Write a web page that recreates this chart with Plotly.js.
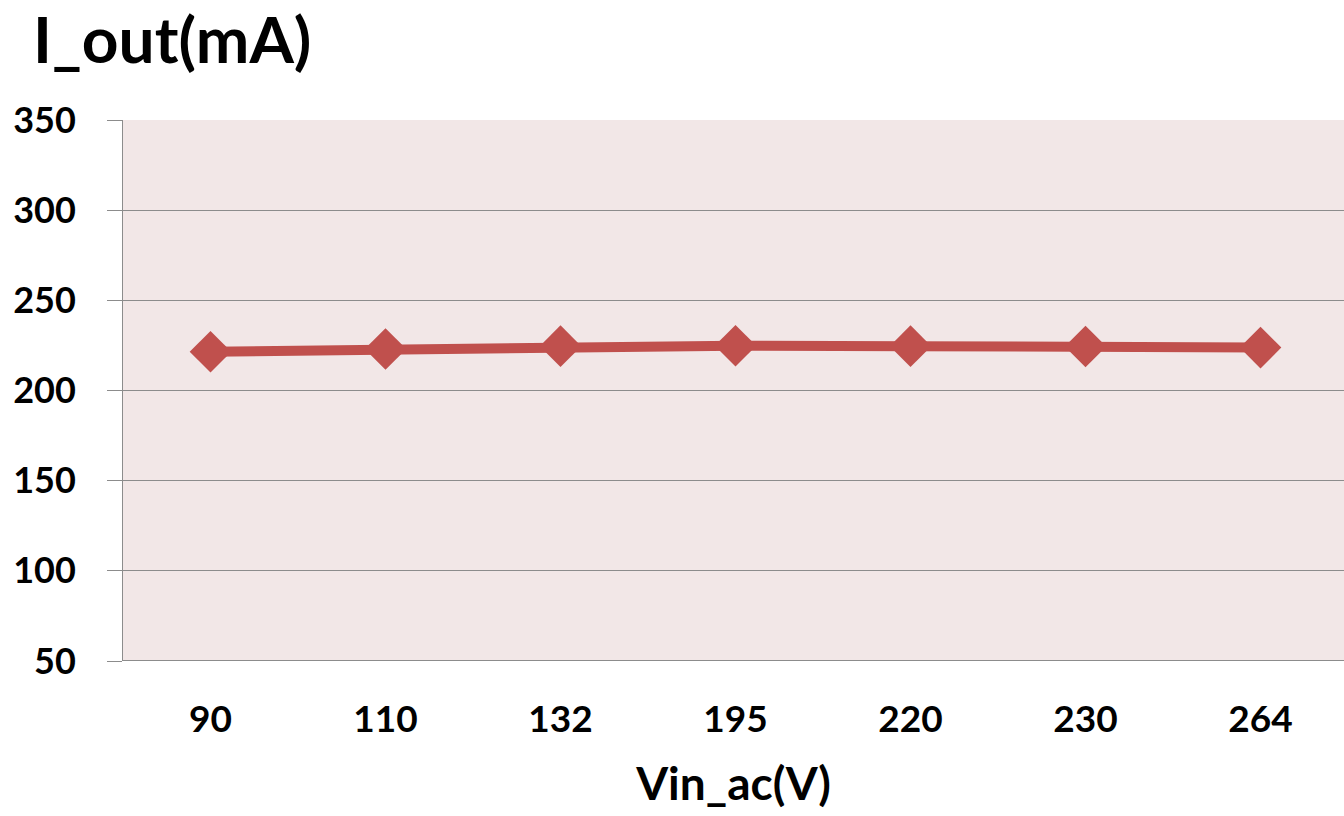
<!DOCTYPE html>
<html>
<head>
<meta charset="utf-8">
<script src="https://cdn.plot.ly/plotly-3.0.1.min.js"></script>
<style>html,body{margin:0;padding:0;background:#fff;}#chart{width:1344px;height:816px;}</style>
</head>
<body>
<div id="chart"></div>
<script>
const categories = ["90", "110", "132", "195", "220", "230", "264"];
const iOut = [221.5, 223, 224.6, 224.8, 224.6, 224.4, 223.8];
const yTicks = [50, 100, 150, 200, 250, 300, 350];

const font = "Lato, 'Open Sans', sans-serif";
const trace = {
  x: categories,
  y: iOut,
  type: "scatter",
  mode: "lines+markers",
  line: {color: "#c0504d", width: 10},
  marker: {symbol: "diamond", size: 32, color: "#c0504d"},
  hoverinfo: "x+y"
};

const layout = {
  width: 1344, height: 816,
  margin: {l: 123, r: 0, t: 120, b: 155},
  paper_bgcolor: "#ffffff",
  plot_bgcolor: "#f2e7e7",
  showlegend: false,
  title: {
    text: "<b>I_out(mA)</b>",
    font: {family: font, size: 64, color: "#000"},
    x: 33 / 1344, xanchor: "left", xref: "container",
    y: 1 - 18 / 816, yanchor: "top", yref: "container",
    pad: {t: 0, b: 0}
  },
  xaxis: {
    type: "category",
    range: [-0.5, 6.477],
    showgrid: false,
    showline: false,
    zeroline: false,
    ticks: "",
    tickfont: {family: font, size: 37, color: "#000", weight: "bold"},
    ticklabelstandoff: 33,
    title: {
      text: "<b>Vin_ac(V)</b>",
      font: {family: font, size: 46, color: "#000"},
      standoff: 28
    }
  },
  yaxis: {
    range: [50, 350],
    tickvals: yTicks,
    ticktext: yTicks.map(String),
    showgrid: true,
    gridcolor: "#8c8c8c",
    gridwidth: 1,
    showline: true,
    linecolor: "#8c8c8c",
    linewidth: 1,
    zeroline: false,
    ticks: "outside",
    ticklen: 15,
    tickcolor: "#8c8c8c",
    tickwidth: 1,
    ticklabelstandoff: 24,
    tickfont: {family: font, size: 36, color: "#000", weight: "bold"}
  },
  shapes: [{
    type: "line", xref: "paper", yref: "y",
    x0: 0, x1: 1, y0: 50, y1: 50,
    line: {color: "#8c8c8c", width: 2}
  }]
};

Plotly.newPlot("chart", [trace], layout, {displayModeBar: false, staticPlot: true});
</script>
</body>
</html>
